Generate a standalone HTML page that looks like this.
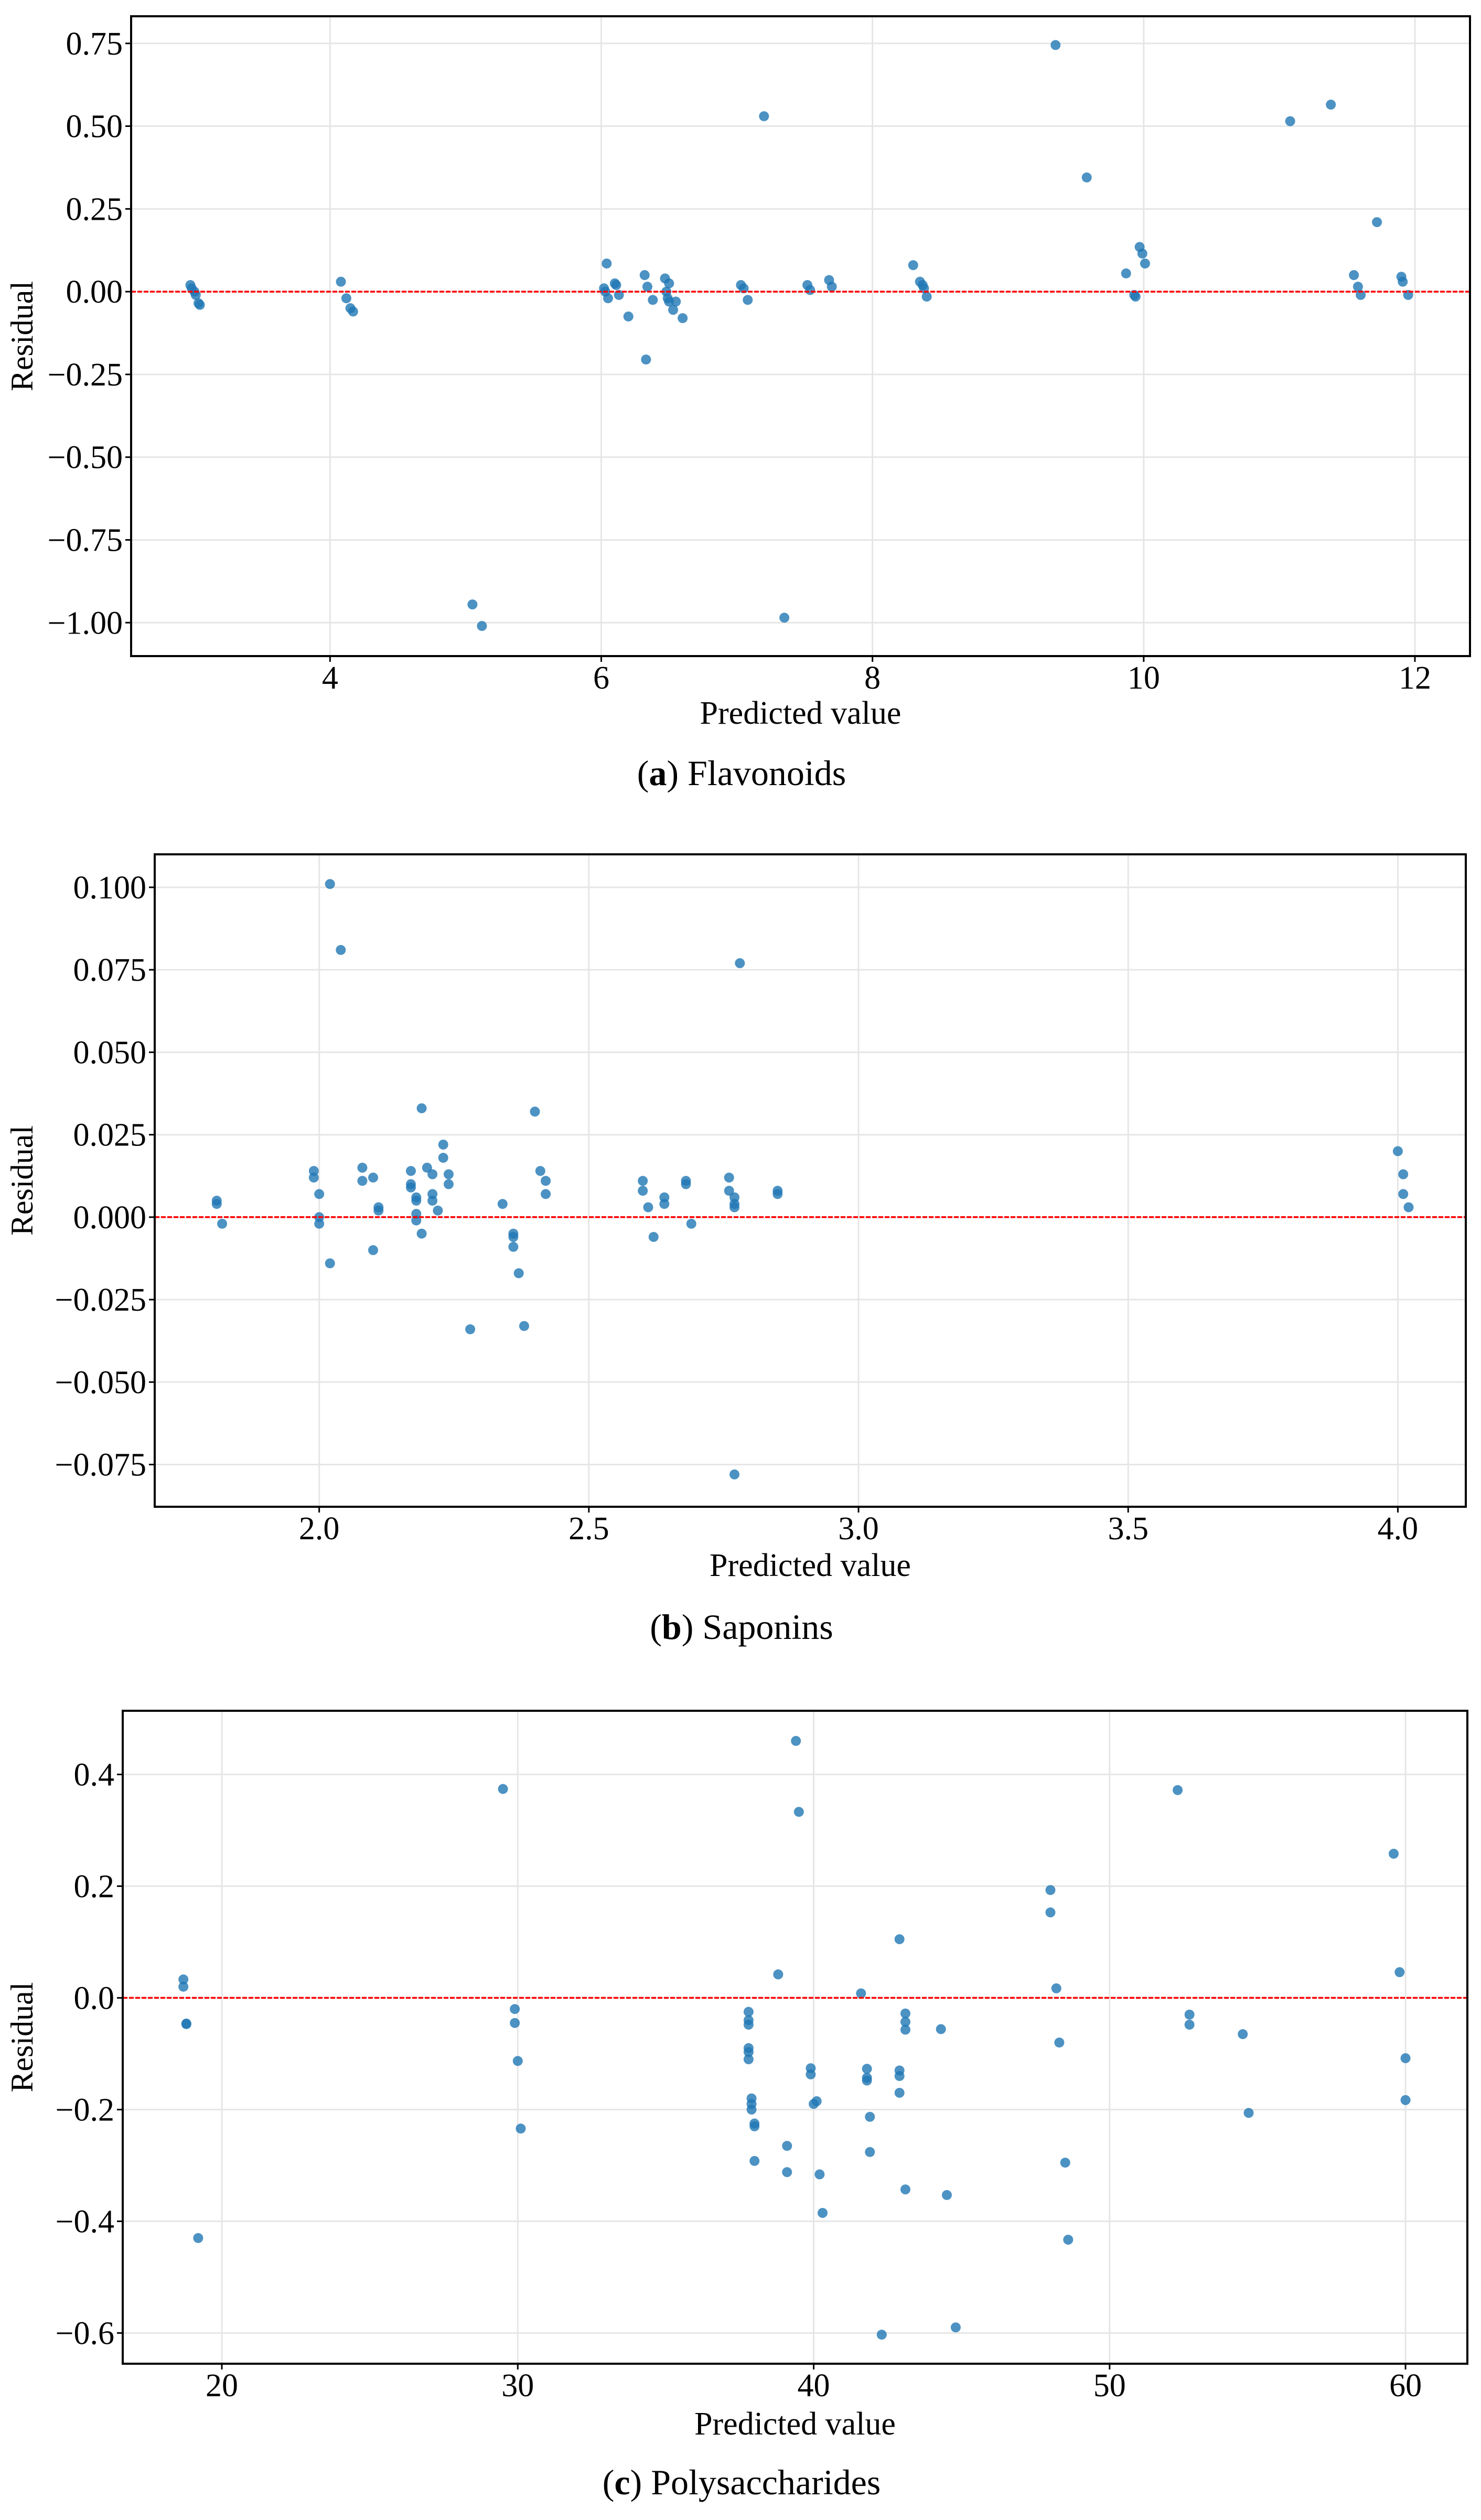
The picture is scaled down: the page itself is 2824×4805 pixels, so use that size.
<!DOCTYPE html>
<html><head><meta charset="utf-8">
<style>
html,body{margin:0;padding:0;background:#fff;}
svg{display:block;}
text{font-family:"Liberation Serif","DejaVu Serif",serif;fill:#000;}
</style></head>
<body>
<svg id="fig" width="2824" height="4805" viewBox="0 0 2824 4805" xmlns="http://www.w3.org/2000/svg"></svg>
<script>
// Panel (a) Flavonoids
const flavX = [2.97,2.98,3.0,3.01,3.03,3.04,4.08,4.12,4.15,4.17,5.05,5.12,6.02,6.03,6.05,6.04,6.1,6.11,6.13,6.2,6.32,6.34,6.33,6.38,6.47,6.48,6.49,6.5,6.5,6.53,6.55,6.6,7.03,7.05,7.08,7.2,7.35,7.52,7.54,7.68,7.7,8.3,8.35,8.37,8.38,8.4,9.35,9.58,9.87,9.93,9.94,9.97,9.99,10.01,11.08,11.38,11.55,11.58,11.6,11.72,11.9,11.91,11.95];
const flavY = [0.02,0.01,0.0,-0.01,-0.035,-0.04,0.03,-0.02,-0.05,-0.06,-0.945,-1.01,0.01,0.0,-0.02,0.085,0.025,0.02,-0.01,-0.075,0.05,0.015,-0.205,-0.025,0.04,0.0,-0.02,0.025,-0.03,-0.055,-0.03,-0.08,0.02,0.01,-0.025,0.53,-0.985,0.02,0.005,0.035,0.015,0.08,0.03,0.02,0.01,-0.015,0.745,0.345,0.055,-0.01,-0.015,0.135,0.115,0.085,0.515,0.565,0.05,0.015,-0.01,0.21,0.045,0.03,-0.01];
const flavXTicks = [4,6,8,10,12];
const flavYTicks = [0.75,0.5,0.25,0,-0.25,-0.5,-0.75,-1.0];
const flavYLabels = ["0.75","0.50","0.25","0.00","\u22120.25","\u22120.50","\u22120.75","\u22121.00"];
// Panel (b) Saponins
const sapX = [1.81,1.81,1.82,1.99,1.99,2.0,2.0,2.0,2.02,2.02,2.04,2.08,2.08,2.1,2.1,2.11,2.11,2.17,2.17,2.17,2.18,2.18,2.18,2.18,2.19,2.19,2.2,2.21,2.21,2.21,2.22,2.23,2.23,2.24,2.24,2.28,2.34,2.36,2.36,2.36,2.37,2.38,2.4,2.41,2.42,2.42,2.6,2.6,2.61,2.62,2.64,2.64,2.68,2.68,2.69,2.76,2.76,2.77,2.77,2.77,2.77,2.78,2.85,2.85,4.0,4.01,4.01,4.02];
const sapY = [0.005,0.004,-0.002,0.014,0.012,0.007,0.0,-0.002,0.101,-0.014,0.081,0.015,0.011,0.012,-0.01,0.003,0.002,0.014,0.01,0.009,0.006,0.005,0.001,-0.001,-0.005,0.033,0.015,0.013,0.007,0.005,0.002,0.022,0.018,0.013,0.01,-0.034,0.004,-0.005,-0.006,-0.009,-0.017,-0.033,0.032,0.014,0.011,0.007,0.011,0.008,0.003,-0.006,0.006,0.004,0.011,0.01,-0.002,0.012,0.008,0.006,0.004,0.003,-0.078,0.077,0.008,0.007,0.02,0.013,0.007,0.003];
const sapXTicks = [2.0,2.5,3.0,3.5,4.0];
const sapXLabels = ["2.0","2.5","3.0","3.5","4.0"];
const sapYTicks = [0.1,0.075,0.05,0.025,0,-0.025,-0.05,-0.075];
const sapYLabels = ["0.100","0.075","0.050","0.025","0.000","\u22120.025","\u22120.050","\u22120.075"];
// Panel (c) Polysaccharides
const polyX = [18.7,18.7,18.8,18.8,19.2,29.5,29.9,29.9,30.0,30.1,37.8,37.8,37.8,37.8,37.8,37.8,37.9,37.9,37.9,38.0,38.0,38.0,38.8,39.1,39.1,39.4,39.5,39.9,39.9,40.0,40.1,40.2,40.3,41.6,41.8,41.8,41.8,41.9,41.9,42.3,42.9,42.9,42.9,42.9,43.1,43.1,43.1,43.1,44.3,44.5,44.8,48.0,48.0,48.2,48.3,48.5,48.6,52.3,52.7,52.7,54.5,54.7,59.6,59.8,60.0,60.0];
const polyY = [0.033,0.02,-0.046,-0.047,-0.43,0.374,-0.02,-0.045,-0.113,-0.234,-0.025,-0.04,-0.048,-0.09,-0.097,-0.11,-0.18,-0.19,-0.2,-0.225,-0.23,-0.292,0.042,-0.265,-0.312,0.46,0.333,-0.126,-0.137,-0.19,-0.185,-0.316,-0.385,0.008,-0.127,-0.143,-0.148,-0.213,-0.276,-0.603,0.105,-0.13,-0.14,-0.17,-0.028,-0.043,-0.057,-0.343,-0.056,-0.353,-0.59,0.193,0.153,0.017,-0.08,-0.295,-0.433,0.372,-0.03,-0.048,-0.065,-0.206,0.258,0.046,-0.108,-0.183];
const polyXTicks = [20,30,40,50,60];
const polyYTicks = [0.4,0.2,0,-0.2,-0.4,-0.6];
const polyYLabels = ["0.4","0.2","0.0","\u22120.2","\u22120.4","\u22120.6"];

const NS = "http://www.w3.org/2000/svg";
const fig = document.getElementById('fig');
function mk(tag, attrs, parent){
  const e = document.createElementNS(NS, tag);
  for (const k in attrs) e.setAttribute(k, attrs[k]);
  parent.appendChild(e);
  return e;
}

function panel(cfg){
  const g = mk('g', {}, fig);
  
  
  const L=cfg.L,R=cfg.R,T=cfg.T,B=cfg.B;
  const sx = v => L + (v - cfg.x0) / (cfg.x1 - cfg.x0) * (R - L);
  const sy = v => T + (cfg.y1 - v) / (cfg.y1 - cfg.y0) * (B - T);
  // grid
  cfg.xt.forEach((t,i)=>{
    const l = mk('line',{x1:sx(t),x2:sx(t),y1:T,y2:B,stroke:'#e6e6e6','stroke-width':3},g);
    
    
  });
  cfg.yt.forEach((t,i)=>{
    const l = mk('line',{x1:L,x2:R,y1:sy(t),y2:sy(t),stroke:'#e6e6e6','stroke-width':3},g);
    
    
  });
  // points
  cfg.xs.forEach((xv,i)=>{
    const c = mk('circle',{cx:sx(xv),cy:sy(cfg.ys[i]),r:9.5,fill:'#1f77b4','fill-opacity':0.8},g);
    
    
  });
  // zero line
  const z = mk('line',{x1:L,x2:R,y1:sy(0),y2:sy(0),stroke:'#ff0000','stroke-width':3.5,'stroke-dasharray':'9,3'},g);
  
  
  // frame
  const f = mk('rect',{x:L,y:T,width:R-L,height:B-T,fill:'none',stroke:'#000','stroke-width':4},g);
  
  
  // ticks
  cfg.xt.forEach((t,i)=>{
    mk('line',{x1:sx(t),x2:sx(t),y1:B,y2:B+11,stroke:'#000','stroke-width':3},g);
    const tx = mk('text',{x:sx(t),y:B+62,'text-anchor':'middle','font-size':62},g);
    tx.textContent = cfg.xl ? cfg.xl[i] : String(t);
    
    
  });
  cfg.yt.forEach((t,i)=>{
    mk('line',{x1:L-11,x2:L,y1:sy(t),y2:sy(t),stroke:'#000','stroke-width':3},g);
    const tx = mk('text',{x:L-16,y:sy(t)+21,'text-anchor':'end','font-size':62},g);
    tx.textContent = cfg.yl[i];
    
    
  });
  const xl = mk('text',{x:(L+R)/2,y:cfg.xlabY,'text-anchor':'middle','font-size':62},g);
  xl.textContent = 'Predicted value';
  
  
  const yy=(T+B)/2;
  const yl = mk('text',{x:0,y:0,'text-anchor':'middle','font-size':60,transform:'translate(62,'+yy+') rotate(-90)'},g);
  yl.textContent = 'Residual';
  
  
  const cap = mk('text',{x:1414,y:cfg.capY,'text-anchor':'middle','font-size':68},g);
  cap.innerHTML = '(<tspan font-weight="bold">'+cfg.letter+'</tspan>) '+cfg.title;
  
  
}

panel({name:'flavonoids-panel',L:250,R:2803,T:31,B:1251,x0:2.533,x1:12.406,y0:-1.101,y1:0.832,
  xs:flavX,ys:flavY,xt:flavXTicks,yt:flavYTicks,yl:flavYLabels,xlabY:1380,capY:1497,letter:'a',title:'Flavonoids'});
panel({name:'saponins-panel',L:295,R:2795,T:1629,B:2873,x0:1.695,x1:4.126,y0:-0.0878,y1:0.110,
  xs:sapX,ys:sapY,xt:sapXTicks,xl:sapXLabels,yt:sapYTicks,yl:sapYLabels,xlabY:3005,capY:3125,letter:'b',title:'Saponins'});
panel({name:'polysaccharides-panel',L:234,R:2798,T:3262,B:4507,x0:16.65,x1:62.09,y0:-0.655,y1:0.514,
  xs:polyX,ys:polyY,xt:polyXTicks,yt:polyYTicks,yl:polyYLabels,xlabY:4642,capY:4756,letter:'c',title:'Polysaccharides'});
</script>
</body></html>
